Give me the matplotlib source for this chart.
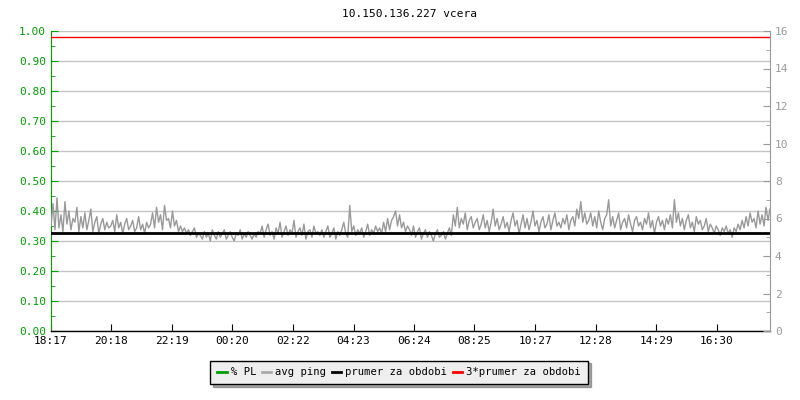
import matplotlib.pyplot as plt
from matplotlib.lines import Line2D
from matplotlib.ticker import MultipleLocator
import numpy as np

plt.rcParams['font.family'] = 'DejaVu Sans Mono'
plt.rcParams['font.size'] = 8

# time labels on the x axis (minutes since 18:17)
tick_labels = ['18:17', '20:18', '22:19', '00:20', '02:22', '04:23',
               '06:24', '08:25', '10:27', '12:28', '14:29', '16:30']
span_minutes = 1440

# avg ping (ms), about one value per 4 minutes
avg_ping = [
    5.6, 6.8, 5.4, 7.1, 5.5, 6.2, 5.3, 6.9, 5.7, 6.4, 5.4, 6.0, 5.8, 6.6, 5.3, 6.1, 5.5, 6.3, 5.4, 5.9,
    6.5, 5.3, 5.8, 6.1, 5.2, 5.7, 6.0, 5.4, 5.8, 5.5,
    5.6, 5.9, 5.3, 6.2, 5.5, 5.8, 5.2, 5.7, 6.0, 5.4, 5.6, 5.9, 5.3, 5.5, 6.1, 5.4, 5.7, 5.2, 5.8, 5.5,
    5.7, 6.3, 5.5, 6.6, 5.8, 6.2, 5.4, 6.7, 5.9, 6.0, 5.5, 6.4, 5.6, 5.9, 5.3,
    5.6, 5.3, 5.5, 5.2, 5.4, 5.1, 5.3, 5.5, 5.0, 5.2,
    5.1, 4.9, 5.3, 5.0, 5.2, 4.8, 5.4, 5.1, 4.9, 5.3, 5.0, 5.2, 5.4, 4.9, 5.1, 5.3, 5.0, 4.8, 5.2, 5.1,
    5.4, 4.9, 5.2, 5.0, 5.3, 5.1, 4.9, 5.2, 5.0, 5.3,
    5.2, 5.6, 5.0, 5.4, 5.7, 5.1, 5.3, 4.9, 5.5, 5.2, 5.8, 5.0, 5.3, 5.6, 5.1, 5.4, 5.2, 5.9, 5.0, 5.3,
    5.5, 5.1, 5.7, 4.9, 5.3, 5.4, 5.0, 5.6, 5.2, 5.3,
    5.1, 5.4, 5.0, 5.3, 5.6, 5.0, 5.2, 5.5, 4.9, 5.3, 5.1, 5.4, 5.8, 5.2, 5.0, 6.7, 5.3, 5.6, 5.1, 5.4,
    5.2, 5.5, 5.0, 5.3, 5.7, 5.1, 5.4, 5.2, 5.6, 5.3,
    5.5, 5.2, 5.8, 5.3, 6.0, 5.4, 5.9, 6.1, 6.4, 5.6, 6.2, 5.5, 5.8, 5.3, 5.6,
    5.4, 5.1, 5.6, 5.0, 5.3, 5.5, 4.9, 5.2, 5.4, 5.0, 5.3, 5.1, 4.8, 5.2, 5.4, 5.0, 5.1, 5.3, 4.9, 5.2,
    5.5, 5.1,
    6.2, 5.6, 6.6, 5.5, 6.0, 5.7, 6.3, 5.4, 5.9, 6.1, 5.5, 5.8, 6.0, 5.4, 5.7, 6.2, 5.5, 5.9, 5.3, 5.8,
    6.5, 5.6, 6.0, 5.4, 5.7, 6.1, 5.5, 5.8, 5.3, 5.9, 6.3, 5.6, 5.9, 5.2, 5.7, 6.2, 5.5, 6.0, 5.4, 5.8,
    6.4, 5.6, 5.9, 5.3, 5.8, 6.1, 5.5, 5.7, 6.2, 5.4, 5.9, 6.3, 5.6, 5.8, 5.5, 6.0, 5.7, 6.2, 5.4, 5.9,
    6.1, 5.6, 6.5, 6.0, 6.9, 5.8, 6.3, 5.7,
    5.9, 6.3, 5.6, 6.1, 5.5, 6.4, 5.8, 5.4, 6.0, 6.2, 7.0, 5.6, 6.1, 5.5, 5.9, 6.3, 5.4, 5.8, 6.0, 5.5,
    6.2, 5.7, 5.3, 5.9, 6.1, 5.6, 5.8, 5.4, 6.0, 5.7, 6.3, 5.5, 5.9, 5.2, 5.8, 6.1, 5.6, 5.9, 5.4, 6.0,
    5.7, 6.2, 5.5, 7.0, 5.8, 6.3, 5.6, 6.0, 5.4, 5.9, 6.2, 5.5, 5.8, 5.3, 6.1, 5.7, 5.9, 5.4, 5.6, 6.0,
    5.3, 5.7, 5.5, 5.2, 5.6, 5.4, 5.1, 5.5, 5.3, 5.6, 5.2, 5.4, 5.0, 5.5, 5.3, 5.7, 5.4, 5.9, 5.5, 6.1,
    5.6, 6.3, 5.8, 6.0, 5.5, 6.4, 5.7, 6.2, 5.6, 6.6, 5.9, 6.5,
]
prumer = 5.23                # mean over the period (ms)
prumer3 = 3 * prumer
# % PL stayed at zero all day, so it is hidden under the x axis

green = '#00a000'
grey = '#999999'

fig = plt.figure(figsize=(8, 4), dpi=100)
ax = fig.add_axes([0.06375, 0.1725, 0.89875, 0.75])
ax2 = ax.twinx()

t = np.linspace(0, span_minutes, len(avg_ping))

ax2.plot(t, avg_ping, color=grey, lw=1)
ax2.axhline(prumer, color='black', lw=2)
ax2.axhline(prumer3, color='red', lw=1)

ax.set_xlim(0, span_minutes)
ax.set_ylim(0, 1)
ax2.set_ylim(0, 16)

ax.yaxis.set_major_locator(MultipleLocator(0.1))
ax.yaxis.set_minor_locator(MultipleLocator(0.05))
ax.set_yticklabels([f'{v:.2f}' for v in ax.get_yticks()])
ax.grid(axis='y', color='#c4c4c4', lw=1)
ax.set_axisbelow(True)
ax.tick_params(axis='y', which='both', direction='in', colors=green, labelcolor=green)
ax.tick_params(axis='y', which='major', length=5)
ax.tick_params(axis='y', which='minor', length=3)

ax2.yaxis.set_major_locator(MultipleLocator(2))
ax2.yaxis.set_minor_locator(MultipleLocator(1))
ax2.tick_params(axis='y', which='both', direction='in', colors=grey, labelcolor=grey)
ax2.tick_params(axis='y', which='major', length=5)
ax2.tick_params(axis='y', which='minor', length=3)

tick_pos = []
for lab in tick_labels:
    h, m = map(int, lab.split(':'))
    tick_pos.append(((h * 60 + m) - (18 * 60 + 17)) % 1440)
ax.set_xticks(tick_pos)
ax.set_xticklabels(tick_labels)
ax.tick_params(axis='x', direction='in', length=5, color='black')

ax.spines['left'].set_color(green)
ax.spines['bottom'].set_linewidth(1)
ax.spines['top'].set_visible(False)
ax.spines['right'].set_visible(False)
ax2.spines['top'].set_visible(False)
ax2.spines['left'].set_visible(False)
ax2.spines['bottom'].set_visible(False)
ax2.spines['right'].set_color(grey)

fig.text(0.5125, 0.965, '10.150.136.227 vcera', ha='center', va='center')

handles = [Line2D([], [], color=green, lw=2),
           Line2D([], [], color='#aaaaaa', lw=2),
           Line2D([], [], color='black', lw=2),
           Line2D([], [], color='red', lw=2)]
labels = ['% PL', 'avg ping', 'prumer za obdobi', '3*prumer za obdobi']
leg = fig.legend(handles, labels, loc='center', bbox_to_anchor=(0.499, 0.069), ncol=4,
                 frameon=True, fancybox=False, shadow={'color': '#555555'},
                 fontsize=7.6, handlelength=0.9, handletextpad=0.4, columnspacing=0.5,
                 borderpad=0.65, borderaxespad=0, facecolor='#eeeeee', edgecolor='black')
leg.get_frame().set_alpha(1)

plt.savefig('out.png', dpi=100)
